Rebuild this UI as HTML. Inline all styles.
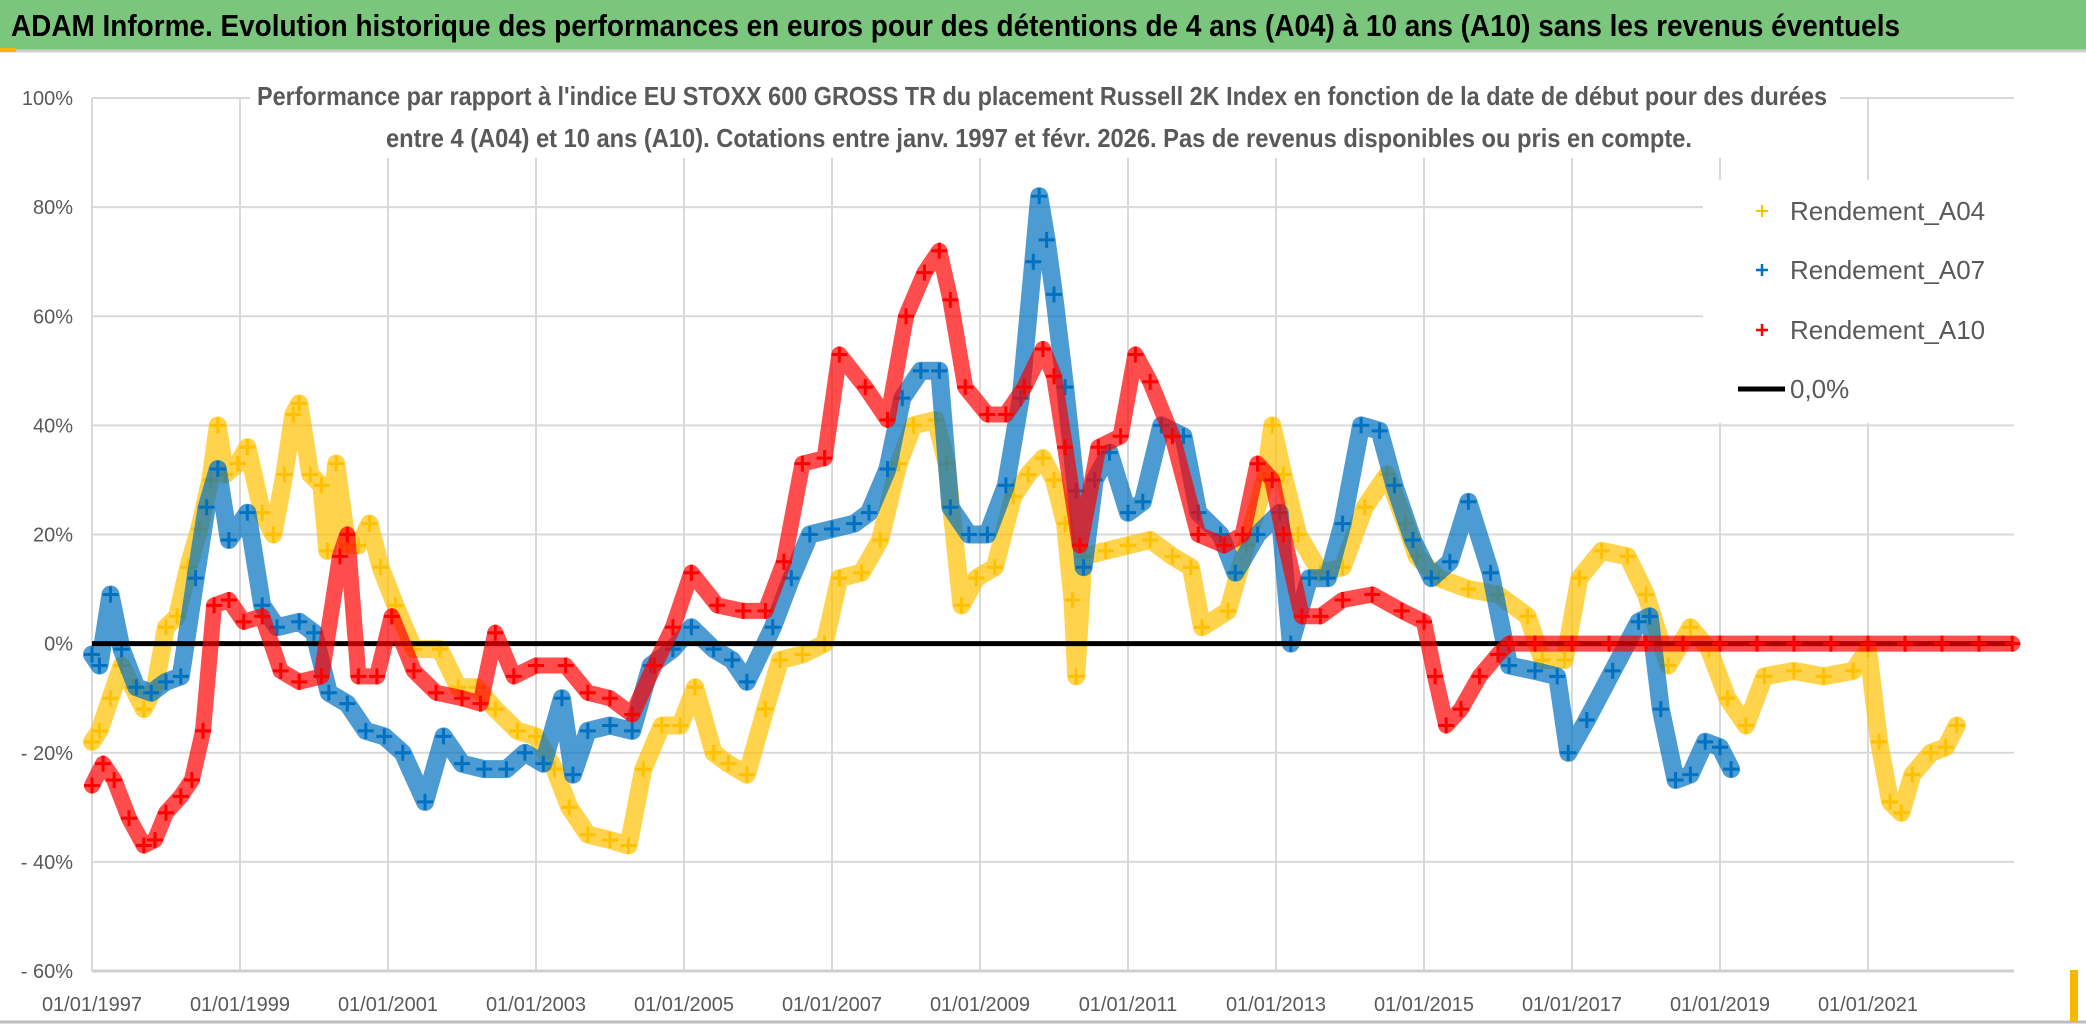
<!DOCTYPE html>
<html><head><meta charset="utf-8"><style>
html,body{margin:0;padding:0;background:#fff}
svg{display:block;font-family:"Liberation Sans",sans-serif}
</style></head><body>
<svg id="chart" width="2086" height="1031" viewBox="0 0 2086 1031">
<rect x="0" y="0" width="2086" height="1031" fill="#fff"/>
<rect x="0" y="0" width="2086" height="50" fill="#7bc67d"/>
<line x1="0" y1="51" x2="2086" y2="51" stroke="#cfcfcf" stroke-width="3"/>
<rect x="0" y="48" width="16" height="4" fill="#f5b800"/>
<text x="11" y="36" font-size="31" font-weight="bold" fill="#000" textLength="1889" lengthAdjust="spacingAndGlyphs">ADAM Informe. Evolution historique des performances en euros pour des détentions de 4 ans (A04) à 10 ans (A10) sans les revenus éventuels</text>
<g id="grid"></g>
<g id="series"></g>
<rect x="250" y="78" width="1590" height="80" fill="#fff"/>
<text x="1042" y="105" font-size="26" fill="#595959" font-weight="bold" text-anchor="middle" textLength="1570" lengthAdjust="spacingAndGlyphs">Performance par rapport à l'indice EU STOXX 600 GROSS TR  du placement Russell 2K Index en fonction de la date de début pour des durées</text>
<text x="1039" y="147" font-size="26" fill="#595959" font-weight="bold" text-anchor="middle" textLength="1306" lengthAdjust="spacingAndGlyphs">entre 4 (A04) et 10 ans (A10). Cotations entre janv. 1997 et févr. 2026. Pas de revenus disponibles ou pris en compte.</text>
<g>
<rect x="1703" y="180" width="330" height="243" fill="#fff"/>
<g><path d="M1756 211h12M1762 205v12" stroke="#ffc000" stroke-width="2"/><text x="1790" y="220" font-size="26" fill="#595959">Rendement_A04</text></g>
<g><path d="M1756 270h12M1762 264v12" stroke="#0070c0" stroke-width="2.5"/><text x="1790" y="279" font-size="26" fill="#595959">Rendement_A07</text></g>
<g><path d="M1756 330h12M1762 324v12" stroke="#ff0000" stroke-width="2.5"/><text x="1790" y="339" font-size="26" fill="#595959">Rendement_A10</text></g>
<g><line x1="1738" y1="389" x2="1785" y2="389" stroke="#000" stroke-width="5"/><text x="1790" y="398" font-size="26" fill="#595959">0,0%</text></g>
</g>
<line x1="0" y1="1022" x2="2086" y2="1022" stroke="#bdbdbd" stroke-width="3"/>
<rect x="2070" y="970" width="8" height="52" fill="#f5b800"/>
</svg>
<script>
const yTicks = [100, 80, 60, 40, 20, 0, -20, -40, -60];
const yTickLabels = ["100%", "80%", "60%", "40%", "20%", "0%", "- 20%", "- 40%", "- 60%"];
const xTicks = [1997, 1999, 2001, 2003, 2005, 2007, 2009, 2011, 2013, 2015, 2017, 2019, 2021];
const xTickLabels = ["01/01/1997","01/01/1999","01/01/2001","01/01/2003","01/01/2005","01/01/2007","01/01/2009","01/01/2011","01/01/2013","01/01/2015","01/01/2017","01/01/2019","01/01/2021"];
const a04Dates = [1997.0,1997.1,1997.25,1997.4,1997.55,1997.7,1997.85,1998.0,1998.15,1998.3,1998.45,1998.6,1998.7,1998.8,1998.97,1999.1,1999.3,1999.45,1999.6,1999.72,1999.8,1999.95,2000.1,2000.18,2000.3,2000.45,2000.6,2000.75,2000.9,2001.1,2001.35,2001.7,2001.95,2002.2,2002.45,2002.75,2003.0,2003.25,2003.45,2003.7,2004.0,2004.25,2004.45,2004.7,2004.95,2005.15,2005.4,2005.6,2005.85,2006.1,2006.3,2006.6,2006.9,2007.1,2007.4,2007.65,2007.9,2008.1,2008.4,2008.55,2008.75,2008.95,2009.2,2009.45,2009.65,2009.85,2010.0,2010.15,2010.25,2010.3,2010.4,2010.7,2011.0,2011.3,2011.6,2011.85,2012.0,2012.35,2012.6,2012.85,2012.95,2013.1,2013.3,2013.6,2013.9,2014.2,2014.5,2014.75,2014.9,2015.2,2015.6,2016.0,2016.4,2016.6,2016.9,2017.1,2017.4,2017.75,2018.0,2018.3,2018.6,2018.85,2019.1,2019.35,2019.6,2020.0,2020.4,2020.8,2021.0,2021.15,2021.3,2021.45,2021.6,2021.85,2022.05,2022.2];
const a04Values = [-18,-16,-10,-4,-8,-12,-8,3,5,14,21,30,40,31,33,36,24,20,31,42,44,31,29,17,33,18,18,22,14,7,-1,-1,-8,-8,-12,-16,-17,-23,-30,-35,-36,-37,-23,-15,-15,-8,-20,-22,-24,-12,-3,-2,0,12,13,19,33,40,41,33,7,12,14,27,31,34,30,22,8,-6,16,17,18,19,16,14,3,6,18,30,40,31,20,13,14,25,31,22,16,12,10,9,5,-3,-3,12,17,16,9,-4,3,-1,-10,-15,-6,-5,-6,-5,-1,-18,-29,-31,-24,-20,-19,-15];
const a07Dates = [1997.0,1997.1,1997.25,1997.4,1997.6,1997.8,1998.0,1998.2,1998.4,1998.55,1998.7,1998.85,1999.1,1999.3,1999.5,1999.8,2000.0,2000.2,2000.45,2000.7,2000.95,2001.2,2001.5,2001.75,2002.0,2002.3,2002.6,2002.85,2003.1,2003.35,2003.5,2003.7,2004.0,2004.3,2004.55,2004.85,2005.1,2005.4,2005.65,2005.85,2006.2,2006.45,2006.7,2007.0,2007.3,2007.5,2007.75,2007.95,2008.2,2008.45,2008.6,2008.85,2009.1,2009.35,2009.55,2009.72,2009.8,2009.9,2010.0,2010.15,2010.3,2010.4,2010.55,2010.75,2011.0,2011.2,2011.45,2011.75,2011.95,2012.25,2012.45,2012.75,2013.05,2013.2,2013.45,2013.7,2013.9,2014.15,2014.4,2014.6,2014.85,2015.1,2015.35,2015.6,2015.9,2016.15,2016.5,2016.8,2016.95,2017.2,2017.55,2017.9,2018.05,2018.2,2018.4,2018.6,2018.8,2019.0,2019.15];
const a07Values = [-2,-4,9,-1,-8,-9,-7,-6,12,25,32,19,24,7,3,4,2,-9,-11,-16,-17,-20,-29,-17,-22,-23,-23,-20,-22,-10,-24,-16,-15,-16,-4,-1,3,-1,-3,-7,3,12,20,21,22,24,32,45,50,50,25,20,20,29,45,70,82,74,64,47,28,14,30,35,24,26,40,38,24,20,13,20,24,0,12,12,22,40,39,29,19,12,15,26,13,-4,-5,-6,-20,-14,-5,4,5,-12,-25,-24,-18,-19,-23];
const a10Dates = [1997.0,1997.15,1997.3,1997.5,1997.7,1997.85,1998.0,1998.2,1998.35,1998.5,1998.65,1998.85,1999.05,1999.3,1999.55,1999.8,2000.1,2000.35,2000.45,2000.6,2000.85,2001.05,2001.35,2001.65,2002.0,2002.25,2002.45,2002.7,2003.0,2003.4,2003.7,2004.0,2004.3,2004.6,2004.85,2005.1,2005.45,2005.8,2006.1,2006.35,2006.6,2006.9,2007.1,2007.45,2007.75,2008.0,2008.25,2008.45,2008.6,2008.8,2009.1,2009.35,2009.6,2009.85,2010.0,2010.15,2010.35,2010.6,2010.9,2011.1,2011.3,2011.6,2011.95,2012.3,2012.55,2012.75,2012.95,2013.1,2013.35,2013.6,2013.9,2014.3,2014.7,2015.0,2015.15,2015.3,2015.5,2015.75,2016.0,2016.15,2016.5,2017.0,2017.5,2018.0,2018.5,2019.0,2019.5,2020.0,2020.5,2021.0,2021.5,2022.0,2022.5,2022.95];
const a10Values = [-26,-22,-25,-32,-37,-36,-31,-28,-25,-16,7,8,4,5,-5,-7,-6,16,20,-6,-6,5,-5,-9,-10,-11,2,-6,-4,-4,-9,-10,-13,-4,3,13,7,6,6,15,33,34,53,47,41,60,68,72,63,47,42,42,47,54,49,36,18,36,38,53,48,38,20,18,20,33,30,20,5,5,8,9,6,4,-6,-15,-12,-6,-2,0,0,0,0,0,0,0,0,0,0,0,0,0,0,0];
const zeroLine = [0];

const X0 = 92, X1 = 2014, YEAR0 = 1997, PX_PER_YEAR = 74;
const YTOP = 98, YBOT = 971, VMAX = 100, VMIN = -60;
const xs = t => X0 + (t - YEAR0) * PX_PER_YEAR;
const ys = v => YTOP + (VMAX - v) / (VMAX - VMIN) * (YBOT - YTOP);
const NS = "http://www.w3.org/2000/svg";
function mk(tag, attrs, parent){ const e = document.createElementNS(NS, tag); for (const k in attrs) e.setAttribute(k, attrs[k]); parent.appendChild(e); return e; }

const grid = document.getElementById('grid');
yTicks.forEach((v, i) => {
  const ln = mk('line', {x1: X0, x2: X1, y1: ys(v), y2: ys(v), stroke: '#d9d9d9', 'stroke-width': 2}, grid);
  
  
  const t = mk('text', {x: 73, y: ys(v) + 7, 'font-size': 20, fill: '#595959', 'text-anchor': 'end'}, grid);
  t.textContent = yTickLabels[i];
  
  
});
xTicks.forEach((yr, i) => {
  const ln = mk('line', {x1: xs(yr), x2: xs(yr), y1: YTOP, y2: YBOT, stroke: '#d9d9d9', 'stroke-width': 2}, grid);
  
  
  const t = mk('text', {x: xs(yr), y: 1011, 'font-size': 20, fill: '#595959', 'text-anchor': 'middle'}, grid);
  t.textContent = xTickLabels[i];
  
  
});
const axis = mk('line', {x1: X0, x2: X1, y1: YBOT, y2: YBOT, stroke: '#d0d0d0', 'stroke-width': 3}, grid);



const plot = document.getElementById('series');
function drawSeries(dates, vals, color, name, band){
  const g = mk('g', {}, plot);
  
  
  const d = dates.map((t, i) => (i ? 'L' : 'M') + xs(t).toFixed(1) + ' ' + ys(vals[i]).toFixed(1)).join(' ');
  const p = mk('path', {d: d, fill: 'none', stroke: color, 'stroke-width': band, 'stroke-linejoin': 'round', 'stroke-linecap': 'round', opacity: 0.7}, g);
  
  
  dates.forEach((t, i) => {
    const x = xs(t), y = ys(vals[i]);
    const m = mk('path', {d: `M${x-8} ${y}h16M${x} ${y-8}v16`, stroke: color, 'stroke-width': 3}, g);
    
    
  });
}
drawSeries(a04Dates, a04Values, '#ffc000', 'series-a04', 18);
drawSeries(a07Dates, a07Values, '#0070c0', 'series-a07', 18);
const zl = mk('line', {x1: X0, x2: X1, y1: ys(zeroLine[0]), y2: ys(zeroLine[0]), stroke: '#000', 'stroke-width': 5}, plot);


drawSeries(a10Dates, a10Values, '#ff0000', 'series-a10', 16);
</script>
</body></html>
